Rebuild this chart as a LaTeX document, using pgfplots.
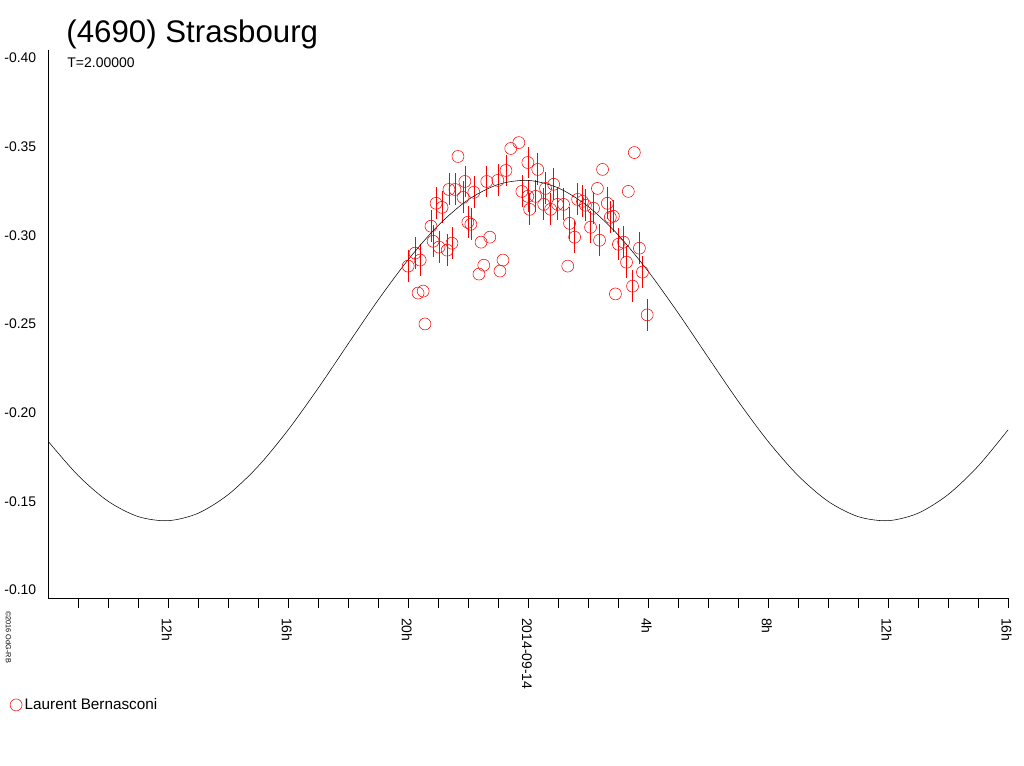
\documentclass[border=0pt]{standalone}
\usepackage{pgfplots}
\pgfplotsset{compat=1.18}
\usepackage{fontspec}
\setmainfont{Liberation Sans}
\begin{document}
\begin{tikzpicture}
\path (0,0) rectangle (768pt,576pt);
\begin{axis}[at={(33.75pt,126pt)},anchor=south west,scale only axis,
 width=722.25pt,height=412.5pt,
 xmin=8,xmax=40,ymin=-0.4045,ymax=-0.0955,y dir=reverse,
 axis x line=bottom,axis y line=left,axis line style={-,black,thin},
 xtick={12,16,20,24,28,32,36,40},
 xticklabels={12h,16h,20h,2014-09-14,4h,8h,12h,16h},
 minor xtick={9,10,11,13,14,15,17,18,19,21,22,23,25,26,27,29,30,31,33,34,35,37,38,39},
 tick align=outside, major tick length=7.5pt, minor tick length=7.5pt,
 tick style={black,thin},
 x tick label style={rotate=-90,anchor=west,font=\fontsize{10.5}{12}\selectfont,xshift=4pt,yshift=-1pt},
 ytick={-0.40,-0.35,-0.30,-0.25,-0.20,-0.15,-0.10},
 yticklabels={-0.40,-0.35,-0.30,-0.25,-0.20,-0.15,-0.10},
 ytick style={draw=none},
 y tick label style={font=\fontsize{10.5}{12}\selectfont,xshift=2pt},
 clip=false,
 legend style={at={(-0.040,-0.195)},anchor=west,draw=none,fill=none,font=\fontsize{11.5}{13}\selectfont,inner sep=0pt},
 legend cell align=left,
]
\addplot[only marks,mark=o,mark size=4.5pt,color=red,mark options={thin,color=red},
 error bars/.cd,y dir=both,y explicit,error mark=none,error bar style={color=red,thin}]
 table[x=t,y=v,y error=e]{
t v e
20.00 -0.2826 0.009
20.23 -0.2899 0.009
20.40 -0.2860 0.009
20.33 -0.2674 0
20.50 -0.2685 0
20.56 -0.2500 0
20.76 -0.3051 0.009
20.83 -0.2966 0.009
20.93 -0.3180 0.009
21.13 -0.3157 0.009
21.03 -0.2933 0.009
21.30 -0.2916 0.009
21.46 -0.2955 0.009
21.36 -0.3258 0.009
21.56 -0.3258 0.009
21.66 -0.3444 0
21.83 -0.3213 0.009
21.89 -0.3303 0.009
22.19 -0.3242 0.009
21.99 -0.3073 0.009
22.09 -0.3062 0.009
22.43 -0.2961 0
22.72 -0.2989 0
22.52 -0.2831 0
22.36 -0.2781 0
23.16 -0.2860 0
23.06 -0.2798 0
22.62 -0.3303 0.009
22.99 -0.3309 0.009
23.26 -0.3365 0.009
23.42 -0.3489 0
23.69 -0.3522 0
23.79 -0.3247 0.009
23.99 -0.3410 0.009
23.99 -0.3219 0.009
24.05 -0.3146 0.009
24.32 -0.3371 0.009
24.25 -0.3219 0.009
24.52 -0.3174 0.009
24.58 -0.3264 0.009
24.75 -0.3146 0.009
24.85 -0.3287 0.009
24.98 -0.3174 0.009
25.18 -0.3174 0.009
25.38 -0.3067 0.009
25.55 -0.2989 0.009
25.32 -0.2826 0
25.65 -0.3202 0.009
25.81 -0.3191 0.009
25.91 -0.3169 0.009
26.18 -0.3152 0.009
26.08 -0.3045 0.009
26.31 -0.3264 0
26.48 -0.3371 0
26.38 -0.2972 0.009
26.64 -0.3180 0.009
26.74 -0.3101 0.009
26.84 -0.3107 0.009
26.91 -0.2669 0
27.01 -0.2949 0.009
27.18 -0.2961 0.009
27.28 -0.2848 0.009
27.34 -0.3247 0
27.54 -0.3466 0
27.71 -0.2927 0.009
27.81 -0.2792 0.009
27.48 -0.2713 0.009
27.97 -0.2551 0.009
};
\addlegendentry{Laurent Bernasconi}
\addplot[black,thin,smooth,forget plot] coordinates {
(8,-0.1838)(9,-0.1645)(10,-0.1500)(11,-0.1414)(12,-0.1391)(13,-0.1433)(14,-0.1538)
(15,-0.1698)(16,-0.1903)(17,-0.2138)(18,-0.2388)(19,-0.2635)(20,-0.2862)(21,-0.3055)
(22,-0.3200)(23,-0.3286)(24,-0.3309)(25,-0.3267)(26,-0.3162)(27,-0.3002)(28,-0.2797)
(29,-0.2562)(30,-0.2312)(31,-0.2065)(32,-0.1838)(33,-0.1645)(34,-0.1500)(35,-0.1414)
(36,-0.1391)(37,-0.1433)(38,-0.1538)(39,-0.1698)(40,-0.1903)};
\end{axis}
\node[anchor=west,font=\fontsize{23.5}{26}\selectfont,inner sep=0pt] at (47.25pt,549.75pt) {(4690) Strasbourg};
\node[anchor=west,font=\fontsize{10.5}{12}\selectfont,inner sep=0pt] at (48pt,528.75pt) {T=2.00000};
\node[anchor=west,rotate=-90,font=\fontsize{5.5}{6}\selectfont,inner sep=0pt] at (3.75pt,116.25pt) {\textcopyright 2016 OdG-RB};
\end{tikzpicture}
\end{document}
